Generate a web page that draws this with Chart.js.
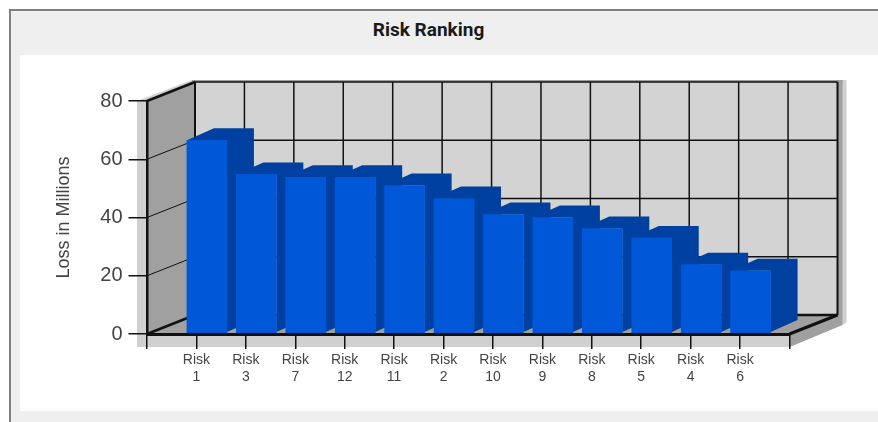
<!DOCTYPE html>
<html>
<head>
<meta charset="utf-8">
<title>Risk Ranking</title>
<script src="https://cdn.jsdelivr.net/npm/chart.js@4"></script>
<style>
  html, body { margin: 0; padding: 0; background: #fff; }
  #frame {
    position: absolute; left: 9px; top: 9px; width: 869px; height: 413px;
    box-sizing: border-box; background: #efefef;
    border-left: 2px solid #808080; border-top: 2px solid #808080;
  }
  #panel { position: absolute; left: 20px; top: 55px; width: 858px; height: 356px; background: #fff; }
  #heading {
    position: absolute; left: 0; top: 19px; width: 857px; text-align: center;
    font: bold 19px/22px Roboto, sans-serif; color: #1a1a1a;
  }
  #wrap { position: absolute; left: 0; top: 0; width: 878px; height: 422px; }
</style>
</head>
<body>
<div id="frame"></div>
<div id="panel"></div>
<div id="heading">Risk Ranking</div>
<div id="wrap"><canvas id="riskChart" width="878" height="422"></canvas></div>
<script>
const risks = ['1', '3', '7', '12', '11', '2', '10', '9', '8', '5', '4', '6'];
const losses = [66.5, 54.8, 53.8, 53.8, 51, 46.5, 41, 40, 36.2, 33, 23.8, 21.7];
const yTicks = [0, 20, 40, 60, 80];

// the axis has a blank slot either side so the ticks run past the bars
const labels = ['', ...risks.map(r => ['Risk', r]), ''];
const values = [null, ...losses, null];

const WALL_DX = 48, WALL_DY = 19;
const BAR_DX = 27, BAR_DY = 12;
const BAR_SHIFT = 10.5;

const FRONT = '#0058d8', SIDE = '#0040a0';
const WALL = '#a0a0a0', BACK = '#d3d3d3', EDGE = '#d0d0d0';

function poly(ctx, pts, fill) {
  ctx.beginPath();
  pts.forEach((p, i) => i ? ctx.lineTo(p[0], p[1]) : ctx.moveTo(p[0], p[1]));
  ctx.closePath();
  ctx.fillStyle = fill;
  ctx.fill();
}

function line(ctx, x1, y1, x2, y2, w) {
  ctx.beginPath();
  ctx.moveTo(x1, y1);
  ctx.lineTo(x2, y2);
  ctx.lineWidth = w;
  ctx.strokeStyle = '#111';
  ctx.stroke();
}

// walls, floor and their grid
const box3d = {
  id: 'box3d',
  beforeDraw(chart) {
    const { ctx, scales: { x, y } } = chart;
    const l = x.left, r = x.right, t = y.top, b = y.bottom;
    const bl = l + WALL_DX, br = r + WALL_DX, bt = t - WALL_DY, bb = b - WALL_DY;
    ctx.save();
    poly(ctx, [[l - 10, t], [bl - 3, bt - 2], [br + 9, bt - 2], [br + 9, bb + 8], [r, b + 13], [l - 10, b + 13]], EDGE);
    poly(ctx, [[r, b], [br, bb], [br, bt - 2], [br + 5, bt - 2], [br + 5, bb + 10], [r, b + 13]], WALL);
    poly(ctx, [[bl - 3, bt - 2], [br + 5, bt - 2], [br + 5, bt], [bl - 3, bt]], WALL);
    poly(ctx, [[bl, bt], [br, bt], [br, bb], [bl, bb]], BACK);
    poly(ctx, [[l, t], [bl, bt], [bl, bb], [l, b]], WALL);
    poly(ctx, [[l, b], [bl, bb], [br, bb], [r, b]], WALL);

    for (let i = 0; i <= x.max; i++) {
      const px = x.getPixelForValue(i) + WALL_DX;
      line(ctx, px, bt, px, bb, i === 0 || i === x.max ? 2 : 1.5);
    }
    yTicks.forEach(v => {
      const py = y.getPixelForValue(v);
      line(ctx, l, py, bl, py - WALL_DY, v === 80 || v === 0 ? 2.5 : 1);
      line(ctx, bl, py - WALL_DY, br, py - WALL_DY, v === 0 ? 2.5 : 1.5);
    });
    line(ctx, r, b, br, bb, 3);
    ctx.restore();
  },
  // bar depth goes under the front faces the library draws
  beforeDatasetsDraw(chart) {
    const { ctx, scales: { y } } = chart;
    const base = y.getPixelForValue(0) - 2;
    ctx.save();
    chart.getDatasetMeta(0).data.forEach((bar, i) => {
      if (values[i] === null) return;
      const half = bar.width / 2;
      const fl = bar.x - half + BAR_SHIFT, fr = bar.x + half + BAR_SHIFT;
      poly(ctx, [
        [fl, bar.y], [fl + BAR_DX, bar.y - BAR_DY], [fr + BAR_DX, bar.y - BAR_DY],
        [fr + BAR_DX, base - BAR_DY], [fr, base], [fr, bar.y]
      ], SIDE);
    });
    ctx.restore();
    ctx.save();
    ctx.translate(BAR_SHIFT, 0);
  },
  afterDatasetsDraw(chart) {
    chart.ctx.restore();
  }
};

new Chart(document.getElementById('riskChart'), {
  type: 'bar',
  data: {
    labels,
    datasets: [{ data: values, backgroundColor: FRONT, barThickness: 40 }]
  },
  options: {
    responsive: false,
    animation: false,
    layout: { padding: { left: 0, top: 101, right: 88.5, bottom: 0 } },
    plugins: { legend: { display: false }, tooltip: { enabled: false } },
    scales: {
      x: {
        offset: false,
        afterFit(s) { s.height = 88; },
        grid: { offset: false, drawOnChartArea: false, color: '#111', lineWidth: 1.5, tickLength: 15 },
        border: { color: '#111', width: 3, z: 1 },
        ticks: {
          autoSkip: false, maxRotation: 0, padding: 2,
          color: '#444', font: { family: 'Liberation Sans', size: 14, lineHeight: 1.25 }
        }
      },
      y: {
        min: 0, max: 80,
        afterFit(s) { s.width = 147; },
        afterBuildTicks(s) { s.ticks = yTicks.map(value => ({ value })); },
        grid: { drawOnChartArea: false, color: '#111', lineWidth: 1.5, tickLength: 18.5 },
        border: { color: '#111', width: 2.5, z: 1 },
        ticks: { padding: 6, color: '#444', font: { family: 'Liberation Sans', size: 20 } },
        title: {
          display: true, text: 'Loss in Millions', color: '#444',
          font: { family: 'Liberation Sans', size: 18 }, padding: { top: 53, bottom: 0 }
        }
      }
    }
  },
  plugins: [box3d]
});
</script>
</body>
</html>
